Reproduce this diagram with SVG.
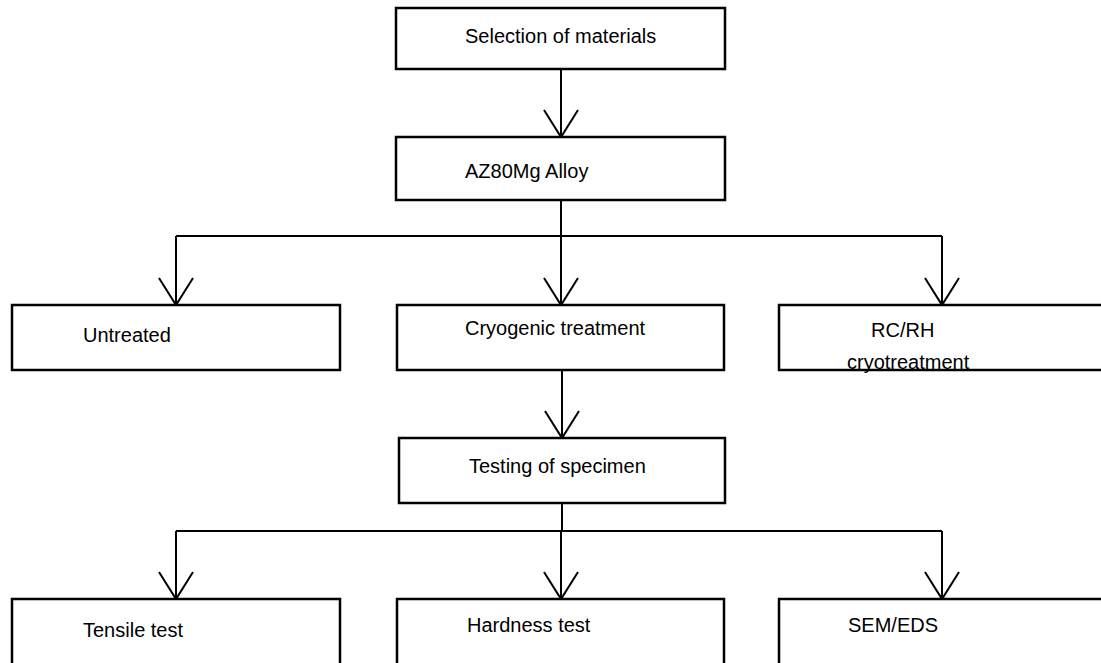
<svg xmlns="http://www.w3.org/2000/svg" width="1101" height="663" viewBox="0 0 1101 663">
<defs>
<style>
.box{fill:#fff;stroke:#000;stroke-width:2.5}
.t{font-family:"Liberation Sans",Arial,sans-serif;font-size:20px;fill:#000}
.c{fill:none;stroke:#000;stroke-width:2}
.ah{fill:none;stroke:#000;stroke-width:2;stroke-linejoin:miter}
</style>
</defs>
<rect width="1101" height="663" fill="#fff"/>
<g id="connectors">
<path class="c" d="M561,69 V137"/>
<path class="ah" d="M544,110 L561,137 L578,110"/>
<path class="c" d="M561,200 V236 M176,236 H942 M176,236 V305 M561,236 V305 M942,236 V305"/>
<path class="ah" d="M159,278 L176,305 L193,278"/>
<path class="ah" d="M544,278 L561,305 L578,278"/>
<path class="ah" d="M925,278 L942,305 L959,278"/>
<path class="c" d="M562,370 V438"/>
<path class="ah" d="M545,411 L562,438 L579,411"/>
<path class="c" d="M562,503 V531 M176,531 H942 M176,531 V599 M561,531 V599 M942,531 V599"/>
<path class="ah" d="M159,572 L176,599 L193,572"/>
<path class="ah" d="M544,572 L561,599 L578,572"/>
<path class="ah" d="M925,572 L942,599 L959,572"/>
</g>
<g id="selection">
<rect class="box" x="396" y="8" width="329" height="61"/>
<text class="t" x="465" y="43">Selection of materials</text>
</g>
<g id="az80">
<rect class="box" x="396" y="137" width="329" height="63"/>
<text class="t" x="465" y="178">AZ80Mg Alloy</text>
</g>
<g id="untreated">
<rect class="box" x="12" y="305" width="328" height="65"/>
<text class="t" x="83" y="342">Untreated</text>
</g>
<g id="cryogenic">
<rect class="box" x="397" y="305" width="327" height="65"/>
<text class="t" x="465" y="335">Cryogenic treatment</text>
</g>
<g id="rcrh">
<rect class="box" x="779" y="305" width="340" height="65"/>
<text class="t" x="871" y="337">RC/RH</text>
<text class="t" x="847" y="369">cryotreatment</text>
</g>
<g id="testing">
<rect class="box" x="399" y="438" width="326" height="65"/>
<text class="t" x="469" y="473">Testing of specimen</text>
</g>
<g id="tensile">
<rect class="box" x="12" y="599" width="328" height="80"/>
<text class="t" x="83" y="637">Tensile test</text>
</g>
<g id="hardness">
<rect class="box" x="397" y="599" width="327" height="80"/>
<text class="t" x="467" y="632">Hardness test</text>
</g>
<g id="sem">
<rect class="box" x="779" y="599" width="340" height="80"/>
<text class="t" x="848" y="632">SEM/EDS</text>
</g>
</svg>
